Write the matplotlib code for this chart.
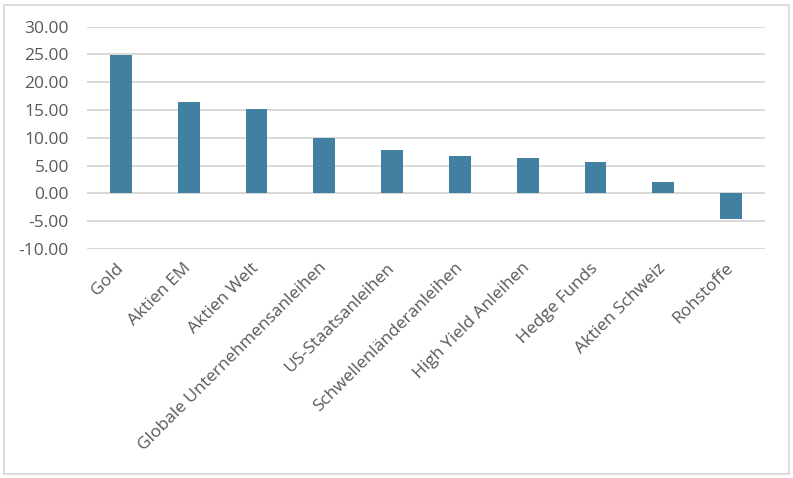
import matplotlib

matplotlib.use("Agg", force=True)
import matplotlib.pyplot as plt
from matplotlib.patches import Rectangle
import numpy as np

CATEGORIES = [
    "Gold",
    "Aktien EM",
    "Aktien Welt",
    "Globale Unternehmensanleihen",
    "US-Staatsanleihen",
    "Schwellenländeranleihen",
    "High Yield Anleihen",
    "Hedge Funds",
    "Aktien Schweiz",
    "Rohstoffe",
]
VALUES = [24.85, 16.4, 15.15, 10.0, 7.83, 6.75, 6.4, 5.66, 2.05, -4.55]
Y_TICKS = [-10, -5, 0, 5, 10, 15, 20, 25, 30]

BAR_COLOR = "#4280A1"
GRID_COLOR = "#D9D9D9"
TEXT_COLOR = "#595959"

plt.rcParams["font.family"] = ["Open Sans", "DejaVu Sans"]

W, H = 793, 478
fig = plt.figure(figsize=(W / 100, H / 100), dpi=100)
fig.patches.append(
    Rectangle((4 / W, 4 / H), 785 / W, 469 / H, transform=fig.transFigure,
              fill=False, edgecolor=GRID_COLOR, linewidth=1.3)
)

ax = fig.add_axes([87 / W, 1 - 249 / H, (765 - 87) / W, (249 - 26.7) / H])
x = np.arange(len(CATEGORIES))
ax.bar(x, VALUES, width=0.32, color=BAR_COLOR, zorder=3)

ax.set_xlim(-0.5, len(CATEGORIES) - 0.5)
ax.set_ylim(-10, 30)
ax.set_yticks(Y_TICKS, [f"{v:.2f}" for v in Y_TICKS])
ax.grid(axis="y", color=GRID_COLOR, linewidth=1.4, zorder=0)
ax.axhline(0, color=GRID_COLOR, linewidth=1.4, zorder=1)
for side in ["top", "right", "left", "bottom"]:
    ax.spines[side].set_visible(False)
ax.tick_params(axis="y", length=0, pad=13, labelsize=12.5, labelcolor=TEXT_COLOR)
ax.tick_params(axis="x", length=0, pad=12, labelsize=12.5, labelcolor=TEXT_COLOR)
ax.set_xticks(x, CATEGORIES, rotation=45, ha="right", va="center", rotation_mode="anchor")

fig.savefig("out.png", dpi=100)
plt.close(fig)
